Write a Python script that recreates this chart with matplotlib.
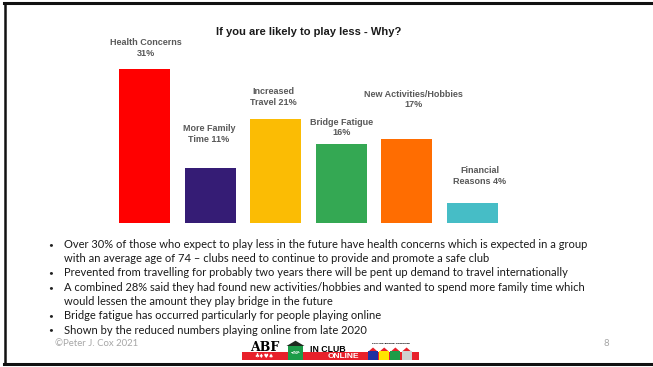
import matplotlib.pyplot as plt
from matplotlib.patches import Rectangle, Polygon
from matplotlib.lines import Line2D

# survey results: reasons people expect to play less bridge
categories = ["Health Concerns", "More Family\nTime", "Increased\nTravel", "Bridge Fatigue",
              "New Activities/Hobbies", "Financial\nReasons"]
percents = [31, 11, 21, 16, 17, 4]
label_sep = ["\n", " ", " ", "\n", "\n", " "]
bar_colors = ["#ff0000", "#351c75", "#fbbc04", "#34a853", "#ff6d01", "#46bdc6"]
# hand placed label offsets (pixels from bar top)
label_dx = [1, -1, -2, 0, 7, 7]
label_dy = [21, 34, 22, 16, 39, 27]

bullets = [
    ["Over 30% of those who expect to play less in the future have health concerns which is expected in a group",
     "with an average age of 74 \u2013 clubs need to continue to provide and promote a safe club"],
    ["Prevented from travelling for probably two years there will be pent up demand to travel internationally"],
    ["A combined 28% said they had found new activities/hobbies and wanted to spend more family time which",
     "would lessen the amount they play bridge in the future"],
    ["Bridge fatigue has occurred particularly for people playing online"],
    ["Shown by the reduced numbers playing online from late 2020"],
]

W, H = 653, 367
fig = plt.figure(figsize=(W / 100, H / 100), dpi=100)
fig.patch.set_facecolor("white")

# bar chart area
ax = fig.add_axes([111.7 / W, (H - 223) / H, 393.6 / W, 154 / H])
x = range(len(percents))
ax.bar(x, percents, width=0.78, color=bar_colors)
ax.set_xlim(-0.5, 5.5)
ax.set_ylim(0, 31)
ax.axis("off")

for i, (cat, p) in enumerate(zip(categories, percents)):
    ax.annotate(f"{cat}{label_sep[i]}{p}%", (i, p), xytext=(label_dx[i], label_dy[i]),
                textcoords="offset pixels", ha="center", va="center",
                fontsize=6.5, fontweight="bold", color="#595959",
                family="Liberation Sans", linespacing=1.25, annotation_clip=False)

fig.text(309 / W, 1 - 32 / H, "If you are likely to play less - Why?", ha="center", va="center",
         fontsize=8, fontweight="bold", color="#1a1a1a", family="Liberation Sans")

# bullet points
line_y = 244.3
for item in bullets:
    for j, line in enumerate(item):
        if j == 0:
            fig.text(51 / W, 1 - line_y / H, "\u2022", ha="center", va="center",
                     fontsize=6, color="#222222", family="Lato")
        fig.text(64 / W, 1 - line_y / H, line, ha="left", va="center",
                 fontsize=8.05, color="#1a1a1a", family="Lato")
        line_y += 14.3

# footer
fig.text(55 / W, 1 - 343 / H, "\u00a9Peter J. Cox 2021", ha="left", va="center",
         fontsize=6.9, color="#a6a6a6", family="Lato")
fig.text(606 / W, 1 - 343 / H, "8", ha="center", va="center",
         fontsize=6.9, color="#a6a6a6", family="Lato")

# club logo strip
lg = fig.add_axes([240 / W, 1 - 362 / H, 180 / W, 22 / H])
lg.set_xlim(0, 180)
lg.set_ylim(22, 0)
lg.axis("off")
lg.add_patch(Rectangle((2, 12), 177, 8, color="#e8202a", lw=0))
lg.text(25, 7.5, "ABF", ha="center", va="center", fontsize=9, fontweight="bold",
        family="DejaVu Serif", color="black")
lg.text(24, 16.5, "\u2663\u2666\u2665\u2660", ha="center", va="center", fontsize=4, color="white")
lg.add_patch(Rectangle((48, 5), 15, 15, color="#1c9c48", lw=0))
lg.add_patch(Polygon([[46.5, 6], [55.5, 0.7], [64.5, 6]], closed=True, color="#1f2a1f", lw=0))
lg.text(55.5, 12.5, "YOUR\nBRIDGE\nCLUB", ha="center", va="center", fontsize=1.6,
        color="white", fontweight="bold", linespacing=1.1)
lg.text(70, 9, "IN CLUB", ha="left", va="center", fontsize=6.3, fontweight="bold",
        family="Liberation Sans", color="black")
lg.text(103, 16.3, "ONLINE", ha="center", va="center", fontsize=6, fontweight="bold",
        family="Liberation Sans", color="white")
lg.text(151, 4, "PLAYING BRIDGE TOGETHER", ha="center", va="center", fontsize=1.7,
        fontweight="bold", color="black")
for k, c in enumerate(["#2030a0", "#ffe600", "#1c9c48", "#cfcfcf"]):
    x0 = 128 + k * 11.2
    lg.add_patch(Rectangle((x0, 11), 10, 9, color=c, lw=0))
    lg.add_patch(Polygon([[x0 + 1, 11], [x0 + 5, 7.5], [x0 + 9, 11]], closed=True,
                         color="#e8202a", lw=0))

# slide frame
fig.add_artist(Line2D([4 / W, 1], [1 - 3 / H, 1 - 3 / H], color="#111111", lw=2.2,
                      transform=fig.transFigure))
fig.add_artist(Line2D([5 / W, 5 / W], [1 - 3 / H, 1 - 364 / H], color="#111111", lw=1.8,
                      transform=fig.transFigure))
fig.add_artist(Line2D([4 / W, 1], [1 - 364 / H, 1 - 364 / H], color="#111111", lw=2.2,
                      transform=fig.transFigure))

fig.savefig("out.png", dpi=100)
